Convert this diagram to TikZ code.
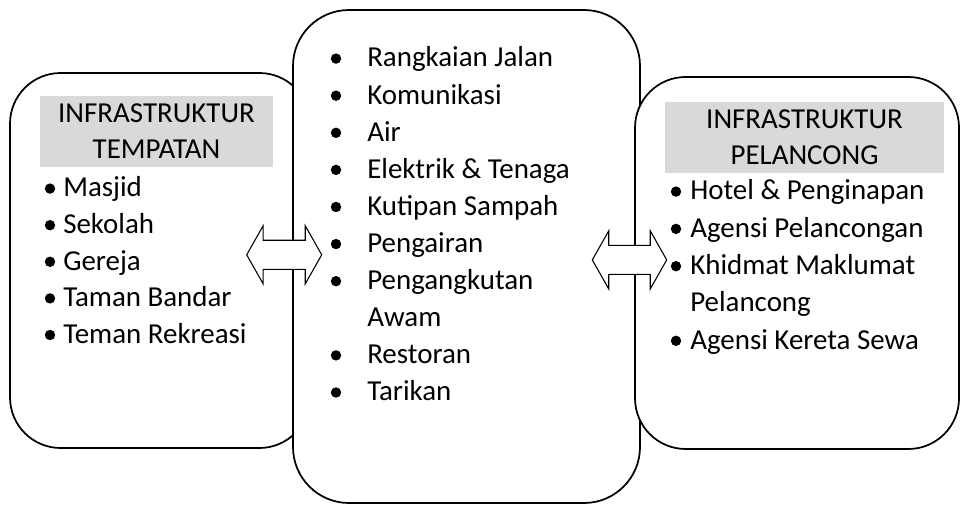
\documentclass[tikz,border=0pt]{standalone}
\usepackage{fontspec}
\setmainfont{Carlito}
\usetikzlibrary{shapes.arrows}

\definecolor{headgray}{HTML}{D9D9D9}

\tikzset{
	box/.style={draw, black, line width=1.3pt, fill=white, rounded corners=38pt, inner sep=0pt},
	headbox/.style={fill=headgray, inner sep=0pt, align=center, font=\fontsize{21.7}{27}\selectfont},
	item/.style={anchor=base west, inner sep=0pt, font=\fontsize{21.7}{27}\selectfont},
	link/.style={double arrow, draw, black, fill=white, line width=0.8pt, inner xsep=0pt, inner ysep=10.5pt,
		double arrow head extend=10.9pt, double arrow tip angle=121}
}

\begin{document}
\begin{tikzpicture}[x=0.75pt, y=-0.75pt]
	\useasboundingbox (0, 0) rectangle (962, 505);

	% Draw boxes (left under middle, middle under right)
	\node[box, minimum width=225pt, minimum height=281.25pt] (lbox) at (160, 260.5) {};
	\node[box, rounded corners=42pt, minimum width=260.25pt, minimum height=369.75pt] (mbox) at (466.5, 256.5) {};
	\node[box, minimum width=243pt, minimum height=279pt] (rbox) at (797, 263) {};

	% Headers
	\node[headbox, minimum width=174.75pt, minimum height=53.25pt] (lhead) at (156.5, 131.5) {INFRASTRUKTUR\\TEMPATAN};
	\node[headbox, minimum width=209.25pt, minimum height=53.25pt] (rhead) at (804.5, 137.5) {INFRASTRUKTUR\\PELANCONG};

	% Left list
	\node[item] (l1) at (63, 197.0) {Masjid};
	\node[item] (l2) at (63, 233.6) {Sekolah};
	\node[item] (l3) at (63, 270.2) {Gereja};
	\node[item] (l4) at (63, 306.8) {Taman Bandar};
	\node[item] (l5) at (63, 343.4) {Teman Rekreasi};
	\fill ([shift={(-13, -8.4)}]l1.base west) circle (3.9pt);
	\fill ([shift={(-13, -8.4)}]l2.base west) circle (3.9pt);
	\fill ([shift={(-13, -8.4)}]l3.base west) circle (3.9pt);
	\fill ([shift={(-13, -8.4)}]l4.base west) circle (3.9pt);
	\fill ([shift={(-13, -8.4)}]l5.base west) circle (3.9pt);

	% Middle list
	\node[item] (m1) at (367, 67.0) {Rangkaian Jalan};
	\node[item] (m2) at (367, 104.1) {Komunikasi};
	\node[item] (m3) at (367, 141.2) {Air};
	\node[item] (m4) at (367, 178.3) {Elektrik \& Tenaga};
	\node[item] (m5) at (367, 215.4) {Kutipan Sampah};
	\node[item] (m6) at (367, 252.5) {Pengairan};
	\node[item] (m7) at (367, 289.6) {Pengangkutan};
	\node[item] (m7b) at (367, 326.7) {Awam};
	\node[item] (m8) at (367, 363.8) {Restoran};
	\node[item] (m9) at (367, 400.9) {Tarikan};
	\fill ([shift={(-31, -8.4)}]m1.base west) circle (3.9pt);
	\fill ([shift={(-31, -8.4)}]m2.base west) circle (3.9pt);
	\fill ([shift={(-31, -8.4)}]m3.base west) circle (3.9pt);
	\fill ([shift={(-31, -8.4)}]m4.base west) circle (3.9pt);
	\fill ([shift={(-31, -8.4)}]m5.base west) circle (3.9pt);
	\fill ([shift={(-31, -8.4)}]m6.base west) circle (3.9pt);
	\fill ([shift={(-31, -8.4)}]m7.base west) circle (3.9pt);
	\fill ([shift={(-31, -8.4)}]m8.base west) circle (3.9pt);
	\fill ([shift={(-31, -8.4)}]m9.base west) circle (3.9pt);

	% Right list
	\node[item] (r1) at (690, 200.0) {Hotel \& Penginapan};
	\node[item] (r2) at (690, 237.3) {Agensi Pelancongan};
	\node[item] (r3) at (690, 274.6) {Khidmat Maklumat};
	\node[item] (r3b) at (690, 311.9) {Pelancong};
	\node[item] (r4) at (690, 349.2) {Agensi Kereta Sewa};
	\fill ([shift={(-14, -8.4)}]r1.base west) circle (3.9pt);
	\fill ([shift={(-14, -8.4)}]r2.base west) circle (3.9pt);
	\fill ([shift={(-14, -8.4)}]r3.base west) circle (3.9pt);
	\fill ([shift={(-14, -8.4)}]r4.base west) circle (3.9pt);

	% Two-way arrows between boxes
	\node[link, minimum height=56.25pt] (larrow) at (284.2, 254.8) {};
	\node[link, minimum height=55.8pt] (rarrow) at (629.5, 259.9) {};
\end{tikzpicture}
\end{document}
